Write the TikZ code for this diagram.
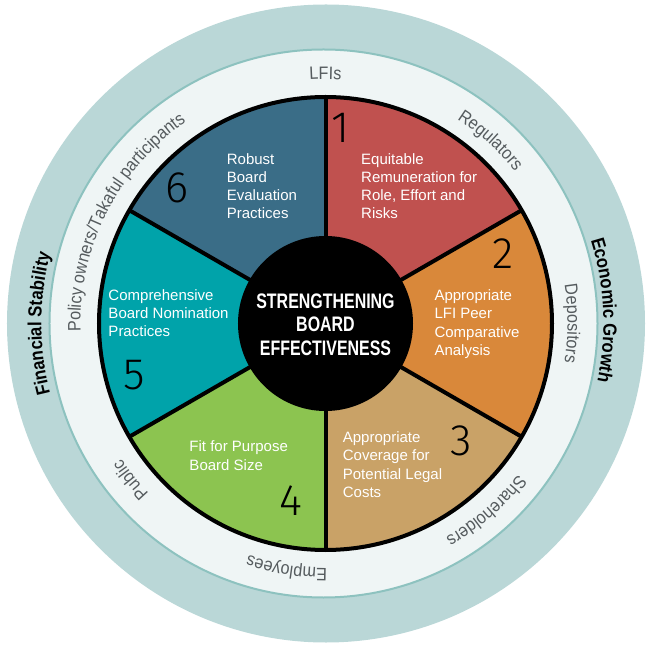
\documentclass[tikz,border=0pt]{standalone}
\usepackage{fontspec}
\setmainfont{Liberation Sans}
\newfontfamily\ringfont{Liberation Sans}[FakeStretch=0.9]
\newfontfamily\outerfont{Liberation Sans Bold}[FakeStretch=0.88]
\newfontfamily\titlefont{Liberation Sans Bold}[FakeStretch=0.76]
\newfontfamily\numfont{Fira Sans Light}
\usetikzlibrary{decorations.text}
\definecolor{outerring}{HTML}{BAD7D7}
\definecolor{lightring}{HTML}{EFF5F5}
\definecolor{ringline}{HTML}{8DC2BF}
\definecolor{ringgray}{HTML}{555B5E}
\definecolor{cA}{HTML}{C0514F}
\definecolor{cB}{HTML}{D9883A}
\definecolor{cC}{HTML}{C9A267}
\definecolor{cD}{HTML}{8CC450}
\definecolor{cE}{HTML}{00A3AA}
\definecolor{cF}{HTML}{3A6D87}
\newcommand\wheelR{226.5}
\newcommand\ringtext[3]{\path[decorate,decoration={text along path,text align=center,text={|\ringfont\fontsize{18}{20}\selectfont\color{ringgray}|#3}}] (#1+80:#2) arc[start angle=#1+80, end angle=#1-80, radius=#2];}
\newcommand\outertext[3]{\path[decorate,decoration={text along path,text align=center,text={|\outerfont\fontsize{19}{21}\selectfont\color{black}|#3}}] (#1+80:#2) arc[start angle=#1+80, end angle=#1-80, radius=#2];}
\tikzset{
  segtext/.style={anchor=base west, align=left, inner sep=0pt, text=white, font=\fontsize{15}{18.2}\selectfont},
  numtext/.style={inner sep=0pt, text=black, font=\numfont\fontsize{44}{44}\selectfont},
  titletext/.style={anchor=base, align=center, inner sep=0pt, text=white, font=\titlefont\fontsize{21}{23.5}\selectfont},
  wheelline/.style={line width=4pt, black}
}
\begin{document}
\begin{tikzpicture}[x=1pt,y=1pt]
\useasboundingbox (-325.5,-326.5) rectangle (324.5,323.5);
% rings
\fill[outerring] (0.5,0) circle (319);
\filldraw[fill=lightring, draw=ringline, line width=2pt] (-2,0) circle (274);
% sectors
\fill[cA] (0,0) -- (90:\wheelR) arc[start angle=90,end angle=30,radius=\wheelR] -- cycle;
\fill[cB] (0,0) -- (30:\wheelR) arc[start angle=30,end angle=-30,radius=\wheelR] -- cycle;
\fill[cC] (0,0) -- (-30:\wheelR) arc[start angle=-30,end angle=-90,radius=\wheelR] -- cycle;
\fill[cD] (0,0) -- (-90:\wheelR) arc[start angle=-90,end angle=-150,radius=\wheelR] -- cycle;
\fill[cE] (0,0) -- (-150:\wheelR) arc[start angle=-150,end angle=-210,radius=\wheelR] -- cycle;
\fill[cF] (0,0) -- (150:\wheelR) arc[start angle=150,end angle=90,radius=\wheelR] -- cycle;
\draw[wheelline] (0,0) circle (\wheelR);
\foreach \a in {90,30,-30,-90,-150,150} \draw[wheelline] (0,0) -- (\a:\wheelR);
\fill[black] (0,0) circle (87.5);
% centre title (anchor = baseline of last line)
\node[titletext] (title) at (0,-31.7) {STRENGTHENING\\BOARD\\EFFECTIVENESS};
% segment texts (anchor = baseline of last line)
\node[segtext] (seg1) at (35.5,104.5) {Equitable\\Remuneration for\\Role, Effort and\\Risks};
\node[segtext] (seg2) at (108.8,-31.8) {Appropriate\\LFI Peer\\Comparative\\Analysis};
\node[segtext] (seg3) at (17.2,-173.8) {Appropriate\\Coverage for\\Potential Legal\\Costs};
\node[segtext] (seg4) at (-136.2,-146.5) {Fit for Purpose\\Board Size};
\node[segtext] (seg5) at (-217.2,-13.2) {Comprehensive\\Board Nomination\\Practices};
\node[segtext] (seg6) at (-98.8,104.8) {Robust\\Board\\Evaluation\\Practices};
% numbers
\node[numtext] (n1) at (15.5,195.5) {1};
\node[numtext] (n2) at (178,70) {2};
\node[numtext] (n3) at (135.5,-117.5) {3};
\node[numtext] (n4) at (-35,-177.5) {4};
\node[numtext] (n5) at (-190.8,-51.5) {5};
\node[numtext] (n6) at (-148,135.5) {6};
% ring labels
\ringtext{90}{244}{LFIs}
\ringtext{48}{243}{Regulators}
\ringtext{0}{242}{Depositors}
\ringtext{-49.4}{245}{Shareholders}
\ringtext{-99}{244.5}{Employees}
\ringtext{-141.3}{245}{Public}
\ringtext{153.3}{245}{Policy owners/Takaful participants}
% outer labels
\outertext{2.7}{278}{Economic Growth}
\outertext{180}{284}{Financial Stability}
\end{tikzpicture}
\end{document}
